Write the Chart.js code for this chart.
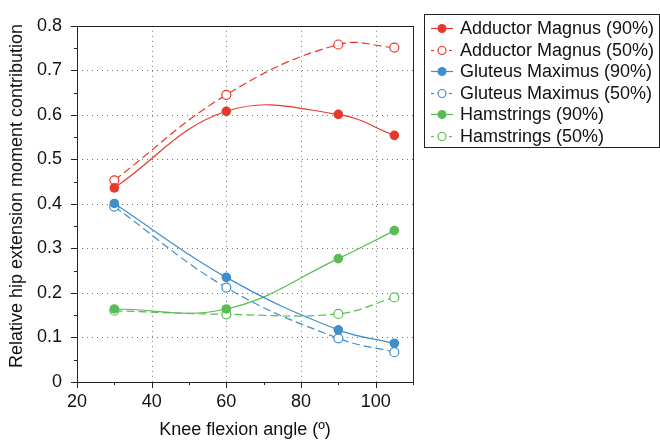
<!DOCTYPE html>
<html>
<head>
<meta charset="utf-8">
<script src="https://cdn.jsdelivr.net/npm/chart.js@4"></script>
<style>
  html, body { margin: 0; padding: 0; background: #fff; }
  #wrap { width: 660px; height: 441px; }
</style>
</head>
<body>
<div id="wrap"><canvas id="chart" width="660" height="441"></canvas></div>
<script>
// knee flexion angles (degrees)
const angles = [30, 60, 90, 105];

// relative hip extension moment contribution
const adductor90 = [0.436, 0.608, 0.601, 0.554];
const adductor50 = [0.453, 0.645, 0.758, 0.751];
const gluteus90 = [0.401, 0.235, 0.117, 0.087];
const gluteus50 = [0.394, 0.212, 0.098, 0.067];
const hams90 = [0.164, 0.164, 0.277, 0.340];
const hams50 = [0.160, 0.152, 0.153, 0.190];

const xTicks = [20, 40, 60, 80, 100];
const yTicks = [0, 0.1, 0.2, 0.3, 0.4, 0.5, 0.6, 0.7, 0.8];
const yTitle = 'Relative hip extension moment contribution';

const RED = '#e8372b';
const BLUE = '#3f8fca';
const GREEN = '#5bbb54';
const FONT = '"Liberation Sans", Arial, Helvetica, sans-serif';

function toPoints(ys) {
  return angles.map((x, i) => ({ x: x, y: ys[i] }));
}

function series(label, ys, color, dashed) {
  return {
    label: label,
    data: toPoints(ys),
    borderColor: color,
    backgroundColor: dashed ? '#fff' : color,
    pointBackgroundColor: dashed ? '#fff' : color,
    pointBorderColor: color,
    pointBorderWidth: dashed ? 1.2 : 0,
    pointRadius: dashed ? 4.5 : 4.8,
    borderWidth: 1.2,
    borderDash: dashed ? [8, 4] : [],
    tension: 0.4,
    fill: false,
  };
}

/**
 * Frame, dotted grid, outward tick marks and y title
 */
const framePlugin = {
  id: 'frame',
  beforeDatasetsDraw(chart) {
    const { ctx, chartArea: a, scales: { x, y } } = chart;
    ctx.save();
    ctx.strokeStyle = '#777';
    ctx.lineWidth = 1;
    ctx.setLineDash([1, 4]);
    [40, 60, 80, 100].forEach(v => {
      const px = Math.round(x.getPixelForValue(v)) + 0.5;
      ctx.beginPath(); ctx.moveTo(px, a.top); ctx.lineTo(px, a.bottom); ctx.stroke();
    });
    yTicks.slice(1, -1).forEach(v => {
      const py = Math.round(y.getPixelForValue(v)) + 0.5;
      ctx.beginPath(); ctx.moveTo(a.left, py); ctx.lineTo(a.right, py); ctx.stroke();
    });
    ctx.setLineDash([]);
    ctx.strokeStyle = '#222';
    ctx.lineWidth = 1;
    ctx.strokeRect(Math.round(a.left) + 0.5, Math.round(a.top) + 0.5,
      Math.round(a.right - a.left), Math.round(a.bottom - a.top));
    // x ticks
    for (let v = 20; v <= 110; v += 10) {
      const px = Math.round(x.getPixelForValue(v)) + 0.5;
      const len = v % 20 === 0 ? 6 : 3;
      ctx.beginPath(); ctx.moveTo(px, a.bottom); ctx.lineTo(px, a.bottom + len); ctx.stroke();
    }
    // y ticks
    for (let i = 0; i <= 16; i++) {
      const v = i * 0.05;
      const py = Math.round(y.getPixelForValue(v)) + 0.5;
      const len = i % 2 === 0 ? 6 : 3;
      ctx.beginPath(); ctx.moveTo(a.left - len, py); ctx.lineTo(a.left, py); ctx.stroke();
    }
    // y title, rotated
    ctx.translate(17, 196);
    ctx.rotate(-Math.PI / 2);
    ctx.font = '18px ' + FONT;
    ctx.fillStyle = '#111';
    ctx.textAlign = 'center';
    ctx.textBaseline = 'middle';
    ctx.fillText(yTitle, 0, 0);
    ctx.restore();
  },
};

/**
 * Boxed legend outside the plot
 */
const legendPlugin = {
  id: 'boxLegend',
  afterDraw(chart) {
    const ctx = chart.ctx;
    const left = 424, top = 14, w = 235, h = 133;
    ctx.save();
    ctx.strokeStyle = '#222';
    ctx.lineWidth = 1;
    ctx.strokeRect(left + 0.5, top + 0.5, w, h);
    ctx.font = '18px ' + FONT;
    ctx.textBaseline = 'middle';
    ctx.fillStyle = '#111';
    chart.data.datasets.forEach((ds, i) => {
      const cy = Math.round(top + 14 + i * 21.5) + 0.5;
      const dashed = ds.borderDash.length > 0;
      ctx.strokeStyle = ds.borderColor;
      ctx.lineWidth = 1.2;
      if (dashed) {
        ctx.beginPath(); ctx.moveTo(431, cy); ctx.lineTo(434, cy); ctx.stroke();
        ctx.beginPath(); ctx.moveTo(449, cy); ctx.lineTo(452, cy); ctx.stroke();
      } else {
        ctx.beginPath(); ctx.moveTo(431, cy); ctx.lineTo(453, cy); ctx.stroke();
      }
      ctx.beginPath();
      ctx.arc(442, cy, dashed ? 4 : 4.5, 0, Math.PI * 2);
      ctx.fillStyle = dashed ? '#fff' : ds.borderColor;
      ctx.fill();
      if (dashed) ctx.stroke();
      ctx.fillStyle = '#111';
      ctx.fillText(ds.label, 460, cy + 1);
    });
    ctx.restore();
  },
};

new Chart(document.getElementById('chart'), {
  type: 'line',
  data: {
    datasets: [
      series('Adductor Magnus (90%)', adductor90, RED, false),
      series('Adductor Magnus (50%)', adductor50, RED, true),
      series('Gluteus Maximus (90%)', gluteus90, BLUE, false),
      series('Gluteus Maximus (50%)', gluteus50, BLUE, true),
      series('Hamstrings (90%)', hams90, GREEN, false),
      series('Hamstrings (50%)', hams50, GREEN, true),
    ],
  },
  options: {
    responsive: false,
    animation: false,
    clip: false,
    layout: { padding: { top: 15, right: 247, left: 0, bottom: 0 } },
    plugins: { legend: { display: false }, tooltip: { enabled: false } },
    scales: {
      x: {
        type: 'linear',
        min: 20,
        max: 110,
        afterFit(scale) { scale.height = 59; },
        afterBuildTicks(scale) { scale.ticks = xTicks.map(v => ({ value: v })); },
        grid: { display: false, drawTicks: false },
        border: { display: false },
        ticks: { color: '#111', padding: 9, font: { family: FONT, size: 18 } },
        title: {
          display: true,
          text: 'Knee flexion angle (º)',
          color: '#111',
          font: { family: FONT, size: 18 },
          padding: { top: 2, bottom: 0 },
        },
      },
      y: {
        min: 0,
        max: 0.8,
        afterFit(scale) { scale.width = 77; },
        afterBuildTicks(scale) { scale.ticks = yTicks.map(v => ({ value: v })); },
        grid: { display: false, drawTicks: false },
        border: { display: false },
        ticks: {
          color: '#111',
          padding: 15,
          font: { family: FONT, size: 18 },
          callback: v => String(Math.round(v * 10) / 10),
        },
      },
    },
  },
  plugins: [framePlugin, legendPlugin],
});
</script>
</body>
</html>
